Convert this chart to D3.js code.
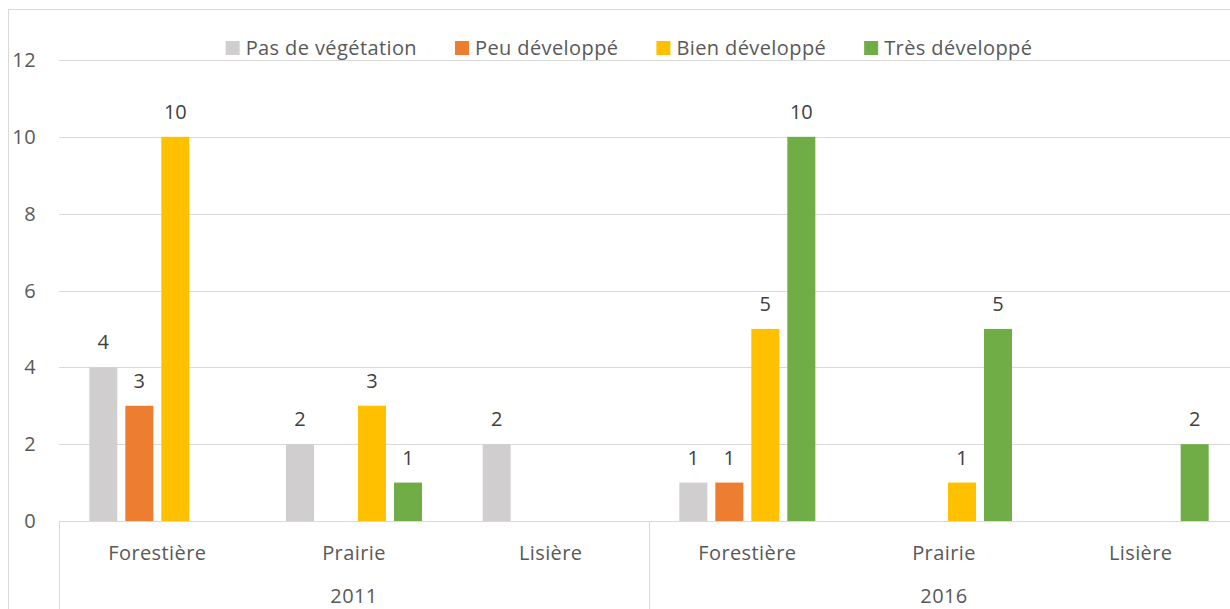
<!DOCTYPE html>
<html>
<head>
<meta charset="utf-8">
<script src="https://cdn.jsdelivr.net/npm/d3@7"></script>
<style>
  body { margin: 0; background: #fff; }
  svg { display: block; font-family: "Open Sans", sans-serif; }
  .grid line { stroke: #d9d9d9; stroke-width: 1; }
  .tick-label { fill: #595959; font-size: 20px; letter-spacing: 0.4px; }
  .bar-label { fill: #404040; font-size: 20px; }
  .legend text { fill: #595959; font-size: 20px; letter-spacing: 0.4px; }
</style>
</head>
<body>
<div id="chart"></div>
<script>
// data
var years = ['2011', '2016'];
var categories = ['Forestière', 'Prairie', 'Lisière', 'Forestière', 'Prairie', 'Lisière'];
var seriesNames = ['Pas de végétation', 'Peu développé', 'Bien développé', 'Très développé'];
var seriesColors = ['#d0cece', '#ed7d31', '#ffc000', '#70ad47'];
var pasDeVegetation = [4, 2, 2, 1, null, null];
var peuDeveloppe = [3, null, null, 1, null, null];
var bienDeveloppe = [10, 3, null, 5, 1, null];
var tresDeveloppe = [null, 1, null, 10, 5, 2];
var yTicks = [0, 2, 4, 6, 8, 10, 12];

var seriesValues = [pasDeVegetation, peuDeveloppe, bienDeveloppe, tresDeveloppe];

// constants
const WIDTH = 1230;
const HEIGHT = 609;
const PLOT_LEFT = 59;
const PLOT_RIGHT = 1239;
const PLOT_TOP = 60;
const PLOT_BOTTOM = 521;

var svg = d3.select('#chart').append('svg')
            .attr('width', WIDTH)
            .attr('height', HEIGHT);

// chart area border
svg.append('rect')
   .attr('x', 8.5)
   .attr('y', 9.5)
   .attr('width', WIDTH + 20)
   .attr('height', HEIGHT + 20)
   .attr('fill', '#fff')
   .attr('stroke', '#d9d9d9');

var x = d3.scaleBand()
          .domain(d3.range(categories.length))
          .range([PLOT_LEFT, PLOT_RIGHT]);

var xInner = d3.scaleBand()
               .domain(d3.range(seriesNames.length))
               .range([-72, 72])
               .paddingInner(0.222)
               .paddingOuter(0.111);

var y = d3.scaleLinear()
          .domain([0, 12])
          .range([PLOT_BOTTOM, PLOT_TOP]);

// gridlines
var grid = svg.append('g').classed('grid', true);
grid.selectAll('line').data(yTicks)
    .enter()
    .append('line')
    .attr('x1', PLOT_LEFT)
    .attr('x2', PLOT_RIGHT)
    .attr('y1', d => Math.round(y(d)) + 0.5)
    .attr('y2', d => Math.round(y(d)) + 0.5);

// y tick labels
svg.append('g').selectAll('text').data(yTicks)
   .enter()
   .append('text')
   .classed('tick-label', true)
   .attr('x', 36)
   .attr('y', d => y(d) + 7)
   .attr('text-anchor', 'end')
   .text(d => d);

// category axis separators (outer level)
var yearBounds = [0, 3, 6];
grid.selectAll('line.sep').data(yearBounds)
    .enter()
    .append('line')
    .classed('sep', true)
    .attr('x1', d => Math.round(d < 6 ? x(d) : PLOT_RIGHT) + 0.5)
    .attr('x2', d => Math.round(d < 6 ? x(d) : PLOT_RIGHT) + 0.5)
    .attr('y1', PLOT_BOTTOM)
    .attr('y2', HEIGHT + 10);

// category labels
svg.append('g').selectAll('text').data(categories)
   .enter()
   .append('text')
   .classed('tick-label', true)
   .attr('x', (d, i) => x(i) + x.bandwidth() / 2)
   .attr('y', 560)
   .attr('text-anchor', 'middle')
   .text(d => d);

// year labels
svg.append('g').selectAll('text').data(years)
   .enter()
   .append('text')
   .classed('tick-label', true)
   .attr('x', (d, i) => x(i * 3) + x.bandwidth() * 1.5)
   .attr('y', 603)
   .attr('text-anchor', 'middle')
   .text(d => d);

// bars
var points = [];
seriesValues.forEach(function (vals, s) {
  vals.forEach(function (v, c) {
    if (v !== null) points.push({ s: s, c: c, v: v });
  });
});

var barX = d => x(d.c) + x.bandwidth() / 2 + xInner(d.s);

svg.append('g').selectAll('rect').data(points)
   .enter()
   .append('rect')
   .attr('x', barX)
   .attr('y', d => y(d.v))
   .attr('width', xInner.bandwidth())
   .attr('height', d => y(0) - y(d.v))
   .attr('fill', d => seriesColors[d.s]);

svg.append('g').selectAll('text').data(points)
   .enter()
   .append('text')
   .classed('bar-label', true)
   .attr('x', d => barX(d) + xInner.bandwidth() / 2)
   .attr('y', d => y(d.v) - 18)
   .attr('text-anchor', 'middle')
   .text(d => d.v);

// legend
var legend = svg.append('g').classed('legend', true);
var items = legend.selectAll('g').data(seriesNames)
                  .enter()
                  .append('g');
items.append('rect')
     .attr('width', 14)
     .attr('height', 14)
     .attr('y', 41)
     .attr('fill', (d, i) => seriesColors[i]);
items.append('text')
     .attr('x', 20)
     .attr('y', 55)
     .text(d => d);

var offset = 0;
var positions = [];
items.each(function () {
  var len = d3.select(this).select('text').node().getComputedTextLength();
  positions.push(offset);
  offset += 20 + len + 38;
});
var legendWidth = offset - 38;
var legendStart = 629 - legendWidth / 2;
items.attr('transform', (d, i) => 'translate(' + (legendStart + positions[i]) + ',0)');
</script>
</body>
</html>
